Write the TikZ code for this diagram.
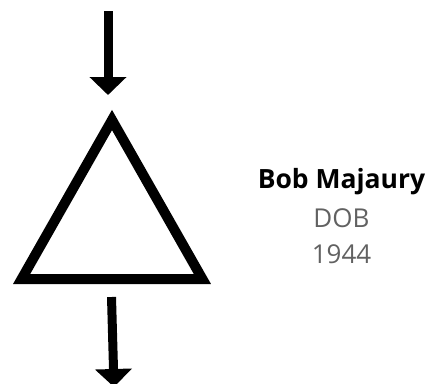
\documentclass[tikz,border=0pt]{standalone}
\usepackage{fontspec}
\setmainfont{Open Sans}
\usepackage{tikz}
\usetikzlibrary{arrows.meta, positioning}

\begin{document}
\begin{tikzpicture}[x=1pt, y=-1pt,
        flowarrow/.style={-{Triangle[width=36pt, length=18pt]}, line width=9pt},
        personname/.style={font=\fontsize{26.5}{30}\selectfont\bfseries, anchor=base},
        personinfo/.style={font=\fontsize{26}{30}\selectfont, text=black!62, anchor=base}
    ]
        \useasboundingbox (0,0) rectangle (427,383);
        % triangle
        \coordinate (apex) at (112,120);
        \coordinate (left) at (21.6,279);
        \coordinate (right) at (202.4,279);
        \draw[line width=10pt, line join=miter] (apex) -- (left) -- (right) -- cycle;
        % arrows in and out
        \coordinate (intop) at (108,11);
        \coordinate (inend) at (108,95);
        \coordinate (outtop) at (111.5,297);
        \coordinate (outend) at (114,387);
        \draw[flowarrow] (intop) -- (inend);
        \draw[flowarrow] (outtop) -- (outend);
        % label
        \node[personname] (name) at (341.5,188) {Bob Majaury};
        \node[personinfo] (dob) at (341.5,227) {DOB};
        \node[personinfo] (year) at (341.5,263) {1944};
    \end{tikzpicture}
\end{document}
